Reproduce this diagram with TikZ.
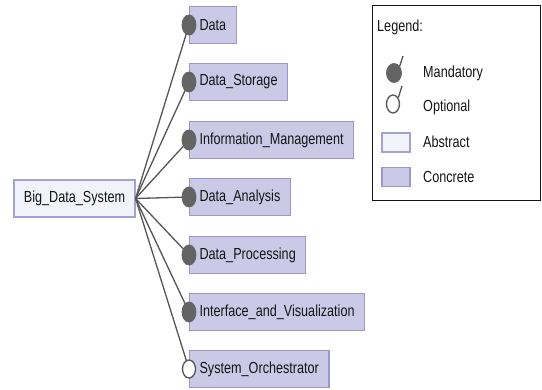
\documentclass[tikz,border=0pt]{standalone}
\usepackage{fontspec}
\setmainfont[FakeStretch=0.79]{Liberation Sans}
\usetikzlibrary{shapes.geometric}
\definecolor{concretefill}{HTML}{CCC9E6}
\definecolor{concreteedge}{HTML}{9C97CB}
\definecolor{abstractfill}{HTML}{F2F2FA}
\definecolor{abstractedge}{HTML}{A3A3D2}
\definecolor{linkgray}{HTML}{555555}
\definecolor{dotgray}{HTML}{646464}
\definecolor{ink}{HTML}{141414}
\tikzset{
  lbl/.style={font=\fontsize{16}{19}\selectfont, text=ink},
  concrete/.style={lbl, draw=concreteedge, fill=concretefill, line width=1.1pt,
    minimum height=37pt, inner xsep=10pt, inner ysep=0pt, anchor=west},
  abstractbox/.style={lbl, draw=abstractedge, fill=abstractfill, line width=1.1pt,
    minimum height=37pt, minimum width=121pt, inner sep=0pt},
  link/.style={draw=linkgray, line width=1.3pt},
  mand/.style={ellipse, fill=dotgray, draw=dotgray, line width=0.8pt,
    minimum width=14pt, minimum height=20pt, inner sep=0pt},
  opt/.style={ellipse, fill=white, draw=linkgray, line width=1.3pt,
    minimum width=13pt, minimum height=18pt, inner sep=0pt},
  legendtext/.style={lbl, anchor=west, inner sep=0pt},
}
\begin{document}
\begin{tikzpicture}[x=1pt, y=-1pt]
\useasboundingbox (0,0) rectangle (542,390);

% root feature
\node[abstractbox] (root) at (74.5,198.5) {Big\_Data\_System};

% child features
\node[concrete] (data) at (189,25)  {Data};
\node[concrete] (stor) at (189,82)  {Data\_Storage};
\node[concrete] (info) at (189,140) {Information\_Management};
\node[concrete] (anal) at (189,197) {Data\_Analysis};
\node[concrete] (proc) at (189,255) {Data\_Processing};
\node[concrete] (intf) at (189,312) {Interface\_and\_Visualization};
\node[concrete] (orch) at (189,369) {System\_Orchestrator};

% connectors from the root to each child
\foreach \c in {data,stor,info,anal,proc,intf,orch}
  \draw[link] (root.east) -- (\c.west);

% mandatory / optional markers
\foreach \c in {data,stor,info,anal,proc,intf}
  \node[mand] (m-\c) at (\c.west) {};
\node[opt] (o-orch) at (orch.west) {};

% legend
\node[draw=ink, line width=1.4pt, minimum width=168pt, minimum height=195pt,
      anchor=north west, inner sep=0pt] (legend) at (372,5) {};
\node[legendtext] (ltitle) at (377,27) {Legend:};

\node[mand, minimum width=15pt, minimum height=19pt] (lm) at (394,73) {};
\coordinate (lmtip) at (403,56);
\draw[link] (lm.50) -- (lmtip);
\node[legendtext] (lmt) at (423,73) {Mandatory};

\node[opt] (lo) at (393,104) {};
\coordinate (lotip) at (402,86);
\draw[link] (lo.50) -- (lotip);
\node[legendtext] (lot) at (423,107) {Optional};

\node[draw=abstractedge, fill=abstractfill, line width=1.1pt,
      minimum width=28pt, minimum height=19pt, inner sep=0pt] (la) at (396,142.5) {};
\node[legendtext] (lat) at (423,142) {Abstract};

\node[draw=concreteedge, fill=concretefill, line width=1.1pt,
      minimum width=28pt, minimum height=19pt, inner sep=0pt] (lc) at (396,177) {};
\node[legendtext] (lct) at (423,177) {Concrete};
\end{tikzpicture}
\end{document}
